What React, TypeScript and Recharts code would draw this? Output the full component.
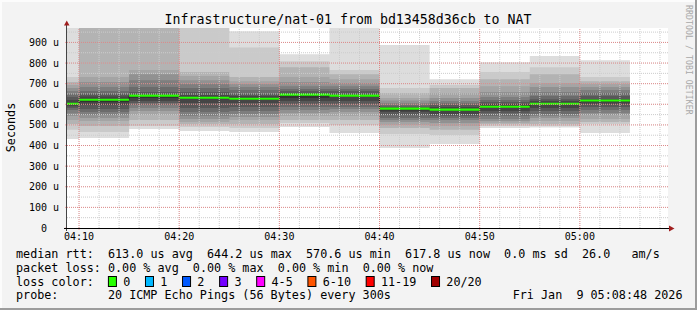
import React from 'react'
import { ComposedChart, Area, XAxis, YAxis, CartesianGrid, ReferenceLine } from 'recharts'

// graph window and the 5 minute steps shown in it
const chartStart = '04:08:48'
const chartEnd = '05:08:48'
const stepStarts = ['04:05', '04:10', '04:15', '04:20', '04:25', '04:30', '04:35', '04:40', '04:45', '04:50', '04:55', '05:00']
const lastStepEnd = '05:05'

// 20 sorted pings per step, in microseconds (1000 = above the top of the graph)
const rtt0405 = [432, 476, 504, 524, 543, 557, 572, 582, 591, 596, 606, 621, 635, 650, 664, 679, 693, 708, 732, 1000]
const rtt0410 = [437, 466, 495, 519, 534, 548, 563, 577, 596, 611, 624, 638, 650, 664, 684, 708, 732, 1000, 1000, 1000]
const rtt0415 = [480, 495, 524, 548, 567, 582, 597, 606, 616, 630, 645, 650, 659, 684, 717, 746, 766, 1000, 1000, 1000]
const rtt0420 = [471, 490, 505, 514, 529, 543, 563, 582, 606, 626, 635, 645, 659, 679, 698, 717, 737, 756, 1000, 1000]
const rtt0425 = [466, 485, 505, 524, 538, 553, 567, 587, 606, 621, 630, 640, 650, 669, 684, 698, 712, 732, 876, 954]
const rtt0430 = [490, 509, 524, 543, 558, 572, 587, 601, 616, 630, 648, 655, 664, 674, 688, 708, 732, 780, 809, 843]
const rtt0435 = [461, 500, 524, 543, 563, 577, 587, 601, 616, 635, 645, 650, 664, 674, 688, 703, 722, 746, 766, 1000]
const rtt0440 = [388, 456, 485, 500, 514, 524, 534, 548, 563, 570, 580, 584, 589, 596, 606, 618, 630, 655, 679, 887]
const rtt0445 = [408, 451, 476, 495, 509, 524, 534, 543, 553, 567, 577, 587, 597, 606, 616, 630, 655, 679, 693, 722]
const rtt0450 = [485, 495, 505, 510, 519, 529, 543, 558, 567, 584, 592, 601, 611, 621, 635, 659, 688, 722, 756, 804]
const rtt0455 = [487, 495, 505, 519, 534, 543, 553, 567, 582, 600, 606, 616, 625, 640, 659, 684, 703, 746, 780, 834]
const rtt0500 = [461, 505, 514, 529, 548, 558, 572, 587, 601, 613, 620, 626, 640, 655, 669, 684, 698, 712, 732, 814]
const pingSteps = [rtt0405, rtt0410, rtt0415, rtt0420, rtt0425, rtt0430, rtt0435, rtt0440, rtt0445, rtt0450, rtt0455, rtt0500]

const medianRtt = [603, 622, 642, 632, 627, 647, 642, 579, 574, 588, 603, 618]

// smoke shades, outermost pair of pings first
const smokeColors = ['#dddddd', '#cacaca', '#b3b3b3', '#a4a4a4', '#919191', '#7e7e7e', '#6b6b6b', '#585858', '#454545', '#323232']

const xTicks = ['04:10', '04:20', '04:30', '04:40', '04:50', '05:00']
const xMinor = ['04:10', '04:12', '04:14', '04:16', '04:18', '04:20', '04:22', '04:24', '04:26', '04:28', '04:30', '04:32', '04:34', '04:36', '04:38',
  '04:40', '04:42', '04:44', '04:46', '04:48', '04:50', '04:52', '04:54', '04:56', '04:58', '05:00', '05:02', '05:04', '05:06', '05:08']
const yTicks = [0, 100, 200, 300, 400, 500, 600, 700, 800, 900]
const yMinor = [50, 100, 150, 200, 250, 300, 350, 400, 450, 500, 550, 600, 650, 700, 750, 800, 850, 900, 950]

const rttStats = ['613.0 us avg', '644.2 us max', '570.6 us min', '617.8 us now', '0.0 ms sd', '26.0   am/s']
const lossStats = ['0.00 % avg', '0.00 % max', '0.00 % min', '0.00 % now']
const lossLabels = ['0', '1', '2', '3', '4-5', '6-10', '11-19', '20/20']
const lossColors = ['#26ff00', '#00b8ff', '#0059ff', '#7400ff', '#ff00ff', '#ff5500', '#ff0000', '#a00000']

const title = 'Infrastructure/nat-01 from bd13458d36cb to NAT'
const probe = '20 ICMP Echo Pings (56 Bytes) every 300s'
const stamp = 'Fri Jan  9 05:08:48 2026'

const W = 697
const H = 310
const FONT = '"DejaVu Sans Mono", monospace'
const CH = 7.07 // legend char width
const GREEN_HALF = 5

const toMin = (s: string) => {
  const [h, m, sec] = s.split(':').map(Number)
  return h * 60 + m + (sec || 0) / 60
}
const t0 = toMin(chartStart)
const t1 = toMin(chartEnd)

// keep runs of spaces in svg text
const pre = (s: string) => s.replace(/ /g, '\u00a0')

const rows: any[] = stepStarts.map((s, i) => {
  const p = pingSteps[i]
  const row: any = { t: Math.max(toMin(s), t0), median: medianRtt[i] }
  for (let k = 0; k < 10; k++) row['b' + k] = [p[k], p[19 - k]]
  row.green = [medianRtt[i] - GREEN_HALF, medianRtt[i] + GREEN_HALF]
  return row
})
rows.push({ ...rows[rows.length - 1], t: toMin(lastStepEnd) })

const fmtTime = (v: number) => {
  const h = Math.floor(v / 60)
  const m = Math.round(v - h * 60)
  return `${String(h).padStart(2, '0')}:${String(m).padStart(2, '0')}`
}

const minorStroke = '#cccccc'
const majorStroke = 'rgba(255,0,0,0.33)'
const tickStyle = { fontFamily: FONT, fontSize: 10, fill: '#000' }

function LossLegend() {
  let x = 16 + 13 * CH
  return (
    <g>
      {lossLabels.map((lab, i) => {
        const bx = x
        const lx = bx + 15.3
        x = lx + lab.length * CH + 14.7
        return (
          <g key={lab}>
            <rect x={bx + 0.5} y={276.5} width={8} height={10} fill={lossColors[i]} stroke="#000" />
            <text x={lx} y={285.6} fontSize={11.75}>{lab}</text>
          </g>
        )
      })}
    </g>
  )
}

export default function App() {
  return (
    <div style={{ position: 'fixed', left: 0, top: 0, width: W, height: H, background: '#f3f3f3' }}>
      <ComposedChart width={W} height={H} data={rows} margin={{ top: 28, right: 29, left: 7, bottom: 62 }}>
        <CartesianGrid fill="#ffffff" horizontal={false} vertical={false} />
        <XAxis
          dataKey="t"
          type="number"
          domain={[t0, t1]}
          allowDataOverflow
          ticks={xTicks.map(toMin)}
          tickFormatter={fmtTime}
          height={20}
          axisLine={false}
          tickLine={{ stroke: majorStroke }}
          tickSize={2}
          tickMargin={3}
          tick={tickStyle}
        />
        <YAxis
          type="number"
          domain={[0, 970]}
          allowDataOverflow
          ticks={yTicks}
          tickFormatter={(v: number) => (v === 0 ? '0\u00a0\u00a0' : `${v} u`)}
          width={60}
          axisLine={false}
          tickLine={{ stroke: majorStroke }}
          tickSize={2}
          tickMargin={6}
          tick={tickStyle}
        />
        {smokeColors.map((c, k) => (
          <Area
            key={'b' + k}
            dataKey={'b' + k}
            type="stepAfter"
            fill={c}
            fillOpacity={1}
            stroke="none"
            dot={false}
            activeDot={false}
            isAnimationActive={false}
          />
        ))}
        {yMinor.map((v) => (
          <ReferenceLine key={'ym' + v} y={v} stroke={minorStroke} strokeDasharray="1 1" />
        ))}
        {xMinor.map((s) => (
          <ReferenceLine key={'xm' + s} x={toMin(s)} stroke={minorStroke} strokeDasharray="1 1" />
        ))}
        {yTicks.slice(1).map((v) => (
          <ReferenceLine key={'yM' + v} y={v} stroke={majorStroke} strokeDasharray="1 1" />
        ))}
        {xTicks.map((s) => (
          <ReferenceLine key={'xM' + s} x={toMin(s)} stroke={majorStroke} strokeDasharray="1 1" />
        ))}
        <Area
          dataKey="median"
          type="stepAfter"
          fill="none"
          stroke="#202020"
          strokeWidth={1}
          dot={false}
          activeDot={false}
          isAnimationActive={false}
        />
        <Area
          dataKey="green"
          type="stepAfter"
          fill={lossColors[0]}
          fillOpacity={1}
          stroke="none"
          dot={false}
          activeDot={false}
          isAnimationActive={false}
        />
      </ComposedChart>

      <svg width={W} height={H} style={{ position: 'absolute', left: 0, top: 0, pointerEvents: 'none' }} fontFamily={FONT}>
        <rect x={0} y={0} width={W} height={2} fill="#fcfcfc" />
        <rect x={0} y={0} width={2} height={H} fill="#fcfcfc" />
        <rect x={W - 2} y={0} width={2} height={H} fill="#9c9c9c" />
        <rect x={0} y={H - 2} width={W} height={2} fill="#9c9c9c" />

        <line x1={66.5} x2={66.5} y1={231} y2={24} stroke="#444" />
        <line x1={64} x2={670} y1={228.5} y2={228.5} stroke="#000" />
        <polygon points="64,25.5 69.5,25.5 66.75,20.5" fill="#a01e1e" />
        <polygon points="669,225.5 669,231.5 674.5,228.5" fill="#a01e1e" />

        <text x={348} y={24} fontSize={13.25} textAnchor="middle">{title}</text>
        <text x={14.5} y={127.5} fontSize={11.75} textAnchor="middle" transform="rotate(-90 14.5 127.5)">Seconds</text>
        <text x={685.5} y={5} fontSize={8.15} letterSpacing={0.1} fill="#a8a8a8" transform="rotate(90 685.5 5)">
          {pre('RRDTOOL / TOBI OETIKER')}
        </text>

        <g fontSize={11.75}>
          <text x={16} y={258}>{pre('median rtt:  ' + rttStats.join('  '))}</text>
          <text x={16} y={271.8}>{pre('packet loss: ' + lossStats.join('  '))}</text>
          <text x={16} y={285.6}>loss color:</text>
          <text x={16} y={299.4}>probe:</text>
          <text x={16 + 13 * CH} y={299.4}>{probe}</text>
          <text x={682.5} y={299.4} textAnchor="end">{pre(stamp)}</text>
        </g>
        <LossLegend />
      </svg>
    </div>
  )
}
